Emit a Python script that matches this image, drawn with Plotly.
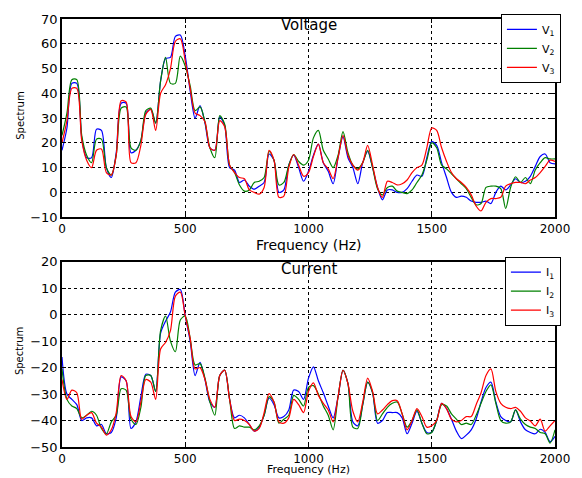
import plotly.graph_objects as go

freq = list(range(0, 2001, 20))

v1 = [17, 26, 44, 44, 22, 14, 14, 25.5, 25, 10, 6, 16, 36, 36, 16, 17, 21, 32, 33.5, 28,
      45, 54, 54.5, 63, 63.5, 55, 41, 30, 35, 28, 18, 17, 30.5, 27, 10, 9, 4, 5, 2.5, 1.3,
      2.5, 4, 15.5, 13, 0, 1, 11, 15, 10, 4.5, 8.5, 15, 19.5, 12, 8.5, 3.5, 14, 22.5, 14, 10,
      3.5, 12, 16.5, 10, 2, -3, 1, 1, 0, 0, 1.5, 4.5, 7, 6.5, 14, 20.5, 19, 12, 6, 0,
      -2, -1.5, -2, -3.5, -4, -4, -3.5, -4.5, 0, 2.5, 1, 3, 5.5, 4, 4.5, 6.5, 10.5, 14.5, 15.5, 12,
      11.5]
v2 = [23, 32, 45.5, 45.5, 23, 15, 12, 21.5, 21.5, 10, 7, 15, 34, 34.5, 18, 17, 21, 33, 34, 28,
      45, 54.5, 44, 44, 55, 51, 43, 33, 34.5, 28.5, 18, 14, 31, 27.5, 11, 8, 3, 0.5, 1, 4,
      4.5, 6, 16.5, 13, 3, 4, 11, 15.3, 12.5, 11, 13, 22, 25, 17, 13.5, 10, 15, 24.5, 16, 11,
      9.5, 12, 17, 10, 1.5, -1, 2, 2.5, 0.5, 0, -0.5, 1, 4, 7, 13, 20, 18, 11, 9.5, 7.5,
      5.5, 3.5, 1.5, -2, -5, -4.5, 2, 2.5, 2.5, 1.5, -6.5, 2, 6.3, 4, 6, 3.5, 9, 12, 14, 13.5,
      13.5]
v3 = [20, 29, 42, 42, 21, 13, 10, 17, 17.5, 8, 7, 15, 37, 36.5, 12, 12, 19, 31.5, 33.5, 25,
      40, 43.5, 50, 61, 62, 53, 42, 32, 31, 28.5, 18, 17, 29, 26.5, 11, 8, 6, 5.5, 1, 0,
      -0.7, 2, 17, 13, -2, -1.5, 10, 15.3, 11, 6.5, 8, 14.5, 19.5, 12, 9.5, 5.5, 14, 23, 15, 11,
      9, 12, 19, 11, 2, -2, 4.5, 4, 3, 3.5, 5, 8, 10, 11, 18, 26, 25, 18, 12.5, 8,
      5.5, 4, 2, -1, -5.5, -7.5, -4, -2.5, -2.5, -2, 2.5, 3.5, 4, 4, 3.5, 5, 6, 8, 10.5, 13,
      12.5]

i1 = [-16, -30, -32, -34, -40, -39, -39, -42, -41.5, -45, -44.5, -39, -23.5, -25, -43, -40.5, -31, -22.5, -23, -29,
      -7, -2.5, 1, 8.5, 9.5, -0.5, -10, -23, -18, -24.5, -33, -35, -23, -21, -32, -39, -38, -39, -41.5, -44,
      -42.5, -38, -31.5, -34, -39, -38.5, -36, -28.5, -29, -32, -24, -19.7, -25, -29.5, -34.5, -39, -31, -21, -26, -40.5,
      -42, -34, -25.5, -29.5, -41, -40, -37, -37, -37, -39, -45, -41, -36.5, -41, -44.5, -44.4, -40, -33.5, -35.5, -39.5,
      -44, -46.8, -45.5, -43.5, -39.5, -33, -27.5, -25.5, -33, -38.5, -40, -40.5, -36, -40.5, -43.5, -44.5, -45, -43.3, -44.5, -48,
      -46]
i2 = [-20.5, -32, -34.5, -35.5, -39, -38, -36.5, -38, -43, -45, -40.5, -38, -28, -28.5, -39.5, -41.5, -35, -23, -23, -29,
      -6, -0.5, -10, -14, -2, -0.5, -9, -19, -18.5, -24, -33, -38, -23, -21, -32, -43, -42, -42.5, -42.5, -43.5,
      -42, -38, -31, -33, -41, -39.5, -38, -30.5, -32, -34.5, -27.5, -26.8, -30, -34.5, -38, -43.5, -31, -21, -26, -42.5,
      -43, -34, -25.5, -29.5, -40, -37.5, -35, -33.5, -33, -37.5, -42.5, -40, -36, -41, -45, -44.5, -40, -34, -34.5, -37.5,
      -39.5, -41.5, -41, -41.5, -38, -33.5, -29, -26.5, -33.5, -40, -41, -40.5, -36, -39.5, -41.5, -42.5, -43, -44.5, -45, -48.5,
      -43.5]
i3 = [-24.5, -32, -28.5, -29.5, -39.5, -38, -37, -41, -42.5, -45.5, -43.5, -37, -23, -25, -38.5, -40.5, -33, -24.5, -25.5, -32,
      -13, -10.5, -6, 7, 8.5, -0.5, -9, -20.5, -20, -24.5, -32, -35, -23, -21, -32, -40, -39.5, -40, -41.5, -44,
      -43, -37, -29.8, -33, -40.5, -41, -39, -32, -34, -37, -29, -25.8, -30.5, -33.5, -36, -40.5, -31, -21, -26, -36.5,
      -40.5, -33, -24, -29, -37.5, -36, -34, -32.5, -32.5, -37.5, -43.5, -40, -35.5, -38.5, -42.5, -42, -40, -33.5, -35.5, -39.5,
      -40.5, -40, -38.5, -38.5, -34, -29.5, -23, -20.5, -29, -33.5, -35, -35.5, -35, -36.5, -39, -40.2, -42, -39.5, -44, -42,
      -40]

v_names = ["V<sub>1</sub>", "V<sub>2</sub>", "V<sub>3</sub>"]
i_names = ["I<sub>1</sub>", "I<sub>2</sub>", "I<sub>3</sub>"]
colors = ["#0000ff", "#008000", "#ff0000"]

x_ticks = [0, 500, 1000, 1500, 2000]
v_ticks = [-10, 0, 10, 20, 30, 40, 50, 60, 70]
i_ticks = [-50, -40, -30, -20, -10, 0, 10, 20]

FONT = "DejaVu Sans"

fig = go.Figure()
for ys, nm, c in zip([v1, v2, v3], v_names, colors):
    fig.add_trace(go.Scatter(x=freq, y=ys, name=nm, mode="lines",
                             line=dict(color=c, width=1.2, shape="spline", smoothing=0.8),
                             xaxis="x", yaxis="y", legend="legend"))
for ys, nm, c in zip([i1, i2, i3], i_names, colors):
    fig.add_trace(go.Scatter(x=freq, y=ys, name=nm, mode="lines",
                             line=dict(color=c, width=1.2, shape="spline", smoothing=0.8),
                             xaxis="x2", yaxis="y2", legend="legend2"))

axis_common = dict(showline=True, linecolor="black", linewidth=1.5, mirror="ticks",
                   ticks="inside", ticklen=4, tickcolor="black",
                   showgrid=True, gridcolor="black", griddash="dot", gridwidth=1,
                   zeroline=False)
tick_font = dict(family=FONT, size=13, color="black")
xtick_font = dict(family=FONT, size=12, color="black")

H = 478 - 15 - 31
top_dom = [1 - 200 / H, 1]
bot_dom = [0, 187 / H]

legend_common = dict(bgcolor="white", bordercolor="black", borderwidth=1,
                     font=dict(family=FONT, size=11, color="black"),
                     itemwidth=30, tracegroupgap=0, xanchor="right", yanchor="top")

fig.update_layout(
    width=582, height=478,
    margin=dict(l=62, r=20, t=15, b=31),
    paper_bgcolor="white", plot_bgcolor="white",
    showlegend=True,
    xaxis=dict(domain=[0, 1], range=[0, 2000], tickvals=x_ticks, anchor="y",
               tickfont=xtick_font, **axis_common),
    yaxis=dict(domain=top_dom, range=[-10, 70], tickvals=v_ticks, anchor="x",
               tickfont=tick_font, **axis_common),
    xaxis2=dict(domain=[0, 1], range=[0, 2000], tickvals=x_ticks, anchor="y2",
                tickfont=xtick_font, **axis_common),
    yaxis2=dict(domain=bot_dom, range=[-50, 20], tickvals=i_ticks, anchor="x2",
                tickfont=tick_font, **axis_common),
    legend=dict(x=1.012, y=1.012, **legend_common),
    legend2=dict(x=1.012, y=bot_dom[1] + 0.012, **legend_common),
    annotations=[
        dict(text="Voltage", x=1000, y=67.5, xref="x", yref="y", showarrow=False,
             font=dict(family=FONT, size=15, color="black")),
        dict(text="Current", x=1000, y=17.2, xref="x2", yref="y2", showarrow=False,
             font=dict(family=FONT, size=15, color="black")),
        dict(text="Frequency (Hz)", x=1000, y=1 - (243 - 15) / H, xref="x", yref="paper",
             yanchor="middle", showarrow=False, font=dict(family=FONT, size=14, color="black")),
        dict(text="Frequency (Hz)", x=1000, y=1 - (470 - 15) / H, xref="x2", yref="paper",
             yanchor="middle", showarrow=False, font=dict(family=FONT, size=11, color="black")),
        dict(text="Spectrum", x=(12 - 62) / 500, y=31, xref="paper", yref="y", textangle=-90,
             showarrow=False, font=dict(family=FONT, size=10, color="black")),
        dict(text="Spectrum", x=(12 - 62) / 500, y=-13.7, xref="paper", yref="y2", textangle=-90,
             showarrow=False, font=dict(family=FONT, size=10, color="black")),
    ],
)

fig.write_html("out.html")
